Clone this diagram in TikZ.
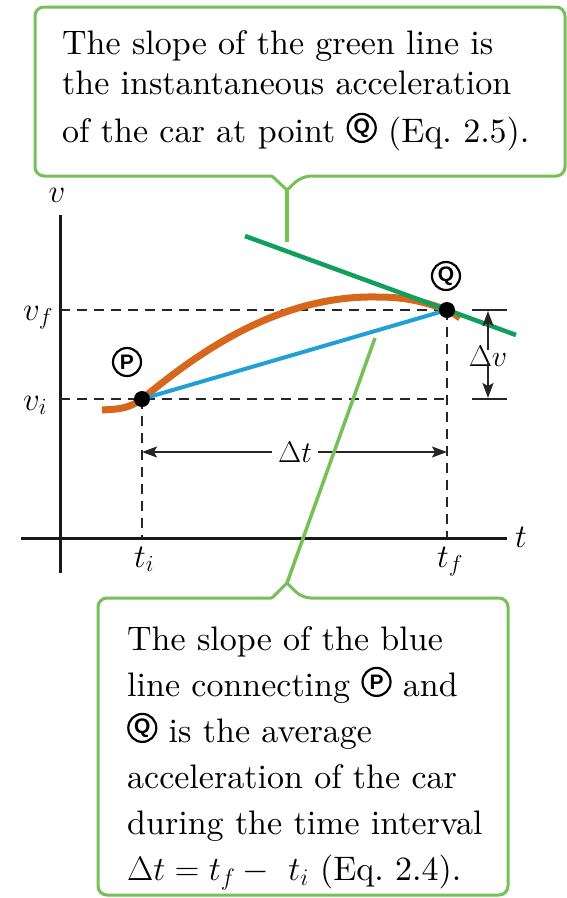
\RequirePackage{fix-cm}
\documentclass[tikz,border=0pt]{standalone}
\usepackage{fontspec}
\setmainfont{lmroman10}[Extension=.otf,UprightFont=*-regular,ItalicFont=*-italic,BoldFont=*-bold,BoldItalicFont=*-bolditalic]
\newfontfamily\helv{Liberation Sans}
\usetikzlibrary{arrows.meta,calc}
\definecolor{boxgreen}{RGB}{118,192,88}
\definecolor{tangreen}{RGB}{16,160,92}
\definecolor{curveorange}{RGB}{214,104,30}
\definecolor{secblue}{RGB}{32,160,212}
\newcommand\cletter[1]{\tikz[baseline={([yshift=1pt]cl.south)}]\node[circle,draw,line width=2.2pt,inner sep=0pt,minimum size=28pt,font=\helv\bfseries\fontsize{21}{21}\selectfont](cl){#1};}
\begin{document}
\begin{tikzpicture}[x=1pt,y=-1pt,
  boxline/.style={draw=boxgreen,line width=3pt},
  stem/.style={draw=boxgreen,line width=3.5pt},
  txt/.style={inner sep=0pt,align=left,text width=490pt,font=\fontsize{34}{40}\selectfont},
  lbl/.style={inner sep=0pt,font=\fontsize{33}{33}\selectfont},
  dlbl/.style={inner sep=0pt,font=\fontsize{30}{30}\selectfont},
  axisline/.style={line width=3pt,black!90},
  guide/.style={line width=1.9pt,black!85,dash pattern=on 10pt off 7pt},
  dimarrow/.style={line width=1.5pt,black!85,-{Stealth[length=15pt,width=11pt,inset=3pt]}},
  tickline/.style={line width=1.5pt,black!85},
  dotnode/.style={circle,fill=black,minimum size=16pt,inner sep=0pt},
  cnode/.style={circle,draw,line width=2.2pt,inner sep=0pt,minimum size=28pt,font=\helv\bfseries\fontsize{21}{21}\selectfont}]
\useasboundingbox (0,0) rectangle (566,898);
\fill[white] (0,0) rectangle (566,898);

% ---------- top callout ----------
\coordinate (tbnw) at (35,7);
\coordinate (tbse) at (565,176);
\coordinate (ttip) at (287,190);
\coordinate (tstem) at (287,242);
\draw[boxline,rounded corners=9pt] ($(tbnw)!0.5!(tbnw -| tbse)$) -- (tbnw -| tbse) -- (tbse)
  -- ($(ttip |- tbse)+(15,0)$) [rounded corners=1pt] -- (ttip) -- ($(ttip |- tbse)+(-15,0)$)
  [rounded corners=9pt] -- (tbnw |- tbse) -- (tbnw) -- cycle;
\node[txt,anchor=base west] (toptext) at (62,54)
  {The slope of the green line is\\the instantaneous acceleration\\[8pt]of the car at point \cletter{Q} (Eq.~2.5).};

% ---------- bottom callout ----------
\coordinate (bbnw) at (98,598);
\coordinate (bbse) at (508,895);
\coordinate (btip) at (287,583);
\coordinate (bstem) at (375,338);
\draw[boxline,rounded corners=9pt] ($(bbnw |- bbse)!0.5!(bbse)$) -- (bbse) -- (bbse |- bbnw)
  -- ($(btip |- bbnw)+(15,0)$) [rounded corners=1pt] -- (btip) -- ($(btip |- bbnw)+(-15,0)$)
  [rounded corners=9pt] -- (bbnw) -- (bbnw |- bbse) -- cycle;
\node[txt,anchor=base west,font=\fontsize{34}{46}\selectfont] (bottext) at (127,650)
  {The slope of the blue\\line connecting \cletter{P} and\\\cletter{Q} is the average\\acceleration of the car\\during the time interval\\$\Delta t = t_f -\ t_i$ (Eq.~2.4).};

% ---------- axes ----------
\coordinate (vtop) at (60,215);
\coordinate (vbot) at (60,573);
\coordinate (tleft) at (21,538);
\coordinate (tright) at (507,538);
\draw[axisline] (vtop) -- (vbot);
\draw[axisline] (tleft) -- (tright);
\node[lbl] (vlab) at (57,195) {$v$};
\node[lbl,anchor=base west] (tlab) at (515,547) {$t$};

% ---------- points ----------
\coordinate (P) at (142,399);
\coordinate (Q) at (447,310);

% guides
\draw[guide] (P -| vtop) -- (P -| Q);
\draw[guide] (Q -| vtop) -- (Q);
\draw[guide] (P) -- (P |- tleft);
\draw[guide] (Q) -- (Q |- tleft);
\node[lbl,anchor=base west] (vflab) at (23,320) {$v_f$};
\node[lbl,anchor=base west] (vilab) at (23,410) {$v_i$};
\node[lbl,anchor=base west] (tilab) at (134,567) {$t_i$};
\node[lbl,anchor=base west] (tflab) at (437,567) {$t_f$};

% curve, secant, tangent
\draw[curveorange,line width=7pt] (102,410) .. controls (115,409) and (127,410) .. (P)
  .. controls (193,357) and (275,295) .. (377,297)
  .. controls (405,297) and (422,301) .. (Q)
  .. controls (452,312) and (456,315) .. (460,318);
\draw[secblue,line width=4pt] (P) -- (Q);
\draw[tangreen,line width=4.5pt] ($(Q)+(-202,-74)$) -- ($(Q)+(69,25)$);
\node[dotnode] (Pd) at (P) {};
\node[dotnode] (Qd) at (Q) {};
\node[cnode] (Plab) at (127,362) {P};
\node[cnode] (Qlab) at (446,276) {Q};

% delta t
\node[dlbl] (dt) at (295,452) {$\Delta t$};
\draw[dimarrow] ([xshift=-6pt]dt.west) -- (dt.west -| P);
\draw[dimarrow] ([xshift=6pt]dt.east) -- (dt.east -| Q);

% delta v
\node[dlbl] (dv) at (488,356) {$\Delta v$};
\draw[tickline] ($(dv |- Q)+(-16,0)$) -- ($(dv |- Q)+(19,0)$);
\draw[tickline] ($(dv |- P)+(-16,0)$) -- ($(dv |- P)+(19,0)$);
\draw[dimarrow] ([yshift=-4pt]dv.north) -- ($(dv |- Q)+(0,1)$);
\draw[dimarrow] ([yshift=4pt]dv.south) -- ($(dv |- P)+(0,-1)$);

% stems
\draw[stem] (ttip) -- (tstem);
\draw[stem] (btip) -- (bstem);
\end{tikzpicture}
\end{document}
